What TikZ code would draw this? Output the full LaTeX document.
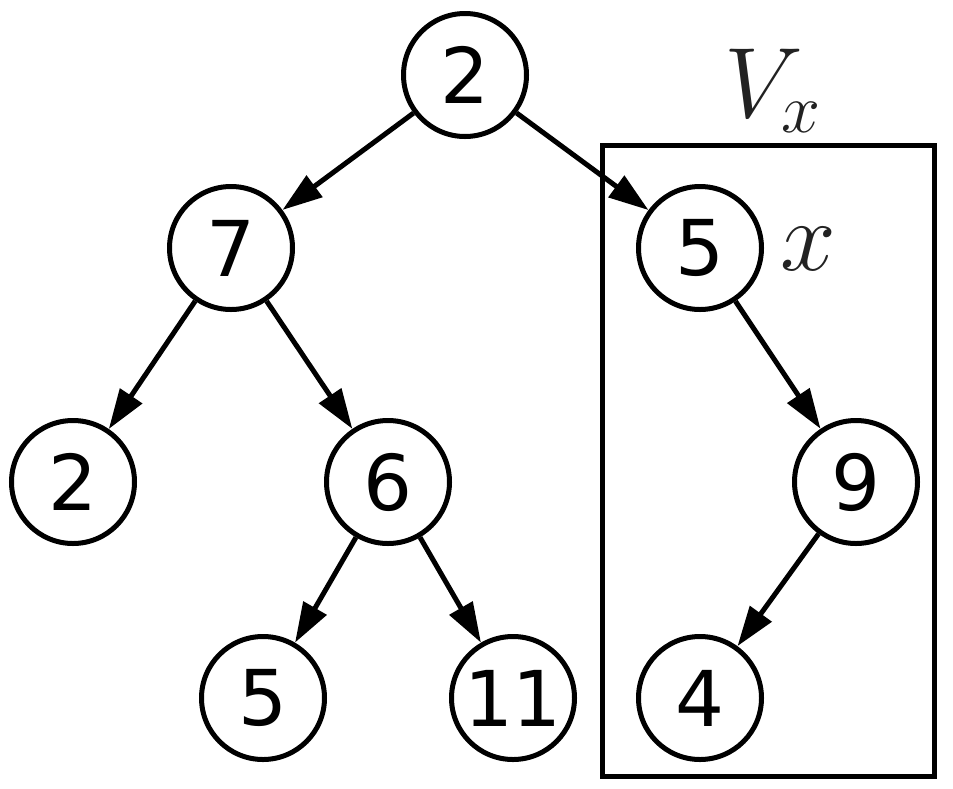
\RequirePackage{fix-cm}
\documentclass[tikz,border=0pt]{standalone}
\usepackage{fontspec}
\setmainfont{DejaVu Sans}
\usetikzlibrary{arrows.meta}
\definecolor{labgray}{HTML}{222222}
\tikzset{
  vert/.style={circle,draw,line width=5pt,minimum size=123pt,inner sep=0pt,
    font=\fontsize{77}{77}\selectfont},
  edge/.style={line width=5pt,-{Triangle[length=40pt,width=26pt]}},
  lab/.style={text=labgray,inner sep=0pt,font=\fontsize{100}{100}\selectfont},
  frame/.style={draw,line width=5pt}
}
\begin{document}
\begin{tikzpicture}[x=1pt,y=-1pt]
\useasboundingbox (0,0) rectangle (953,788);
\node[vert] (r) at (465,75) {2};
\node[vert] (a) at (231,248) {7};
\node[vert] (b) at (700,248) {5};
\node[vert] (c) at (73,482) {2};
\node[vert] (d) at (388,482) {6};
\node[vert] (e) at (856,482) {9};
\node[vert] (f) at (263,698) {5};
\node[vert] (g) at (513,698) {11};
\node[vert] (h) at (700,698) {4};
\draw[edge] (r) -- (a);
\draw[edge] (r) -- (b);
\draw[edge] (a) -- (c);
\draw[edge] (a) -- (d);
\draw[edge] (d) -- (f);
\draw[edge] (d) -- (g);
\draw[edge] (b) -- (e);
\draw[edge] (e) -- (h);
\coordinate (fa) at (602,145);
\coordinate (fb) at (934,776);
\draw[frame] (fa) rectangle (fb);
\node[lab,anchor=base west] (vx) at (724,117) {$V_x$};
\node[lab,anchor=base west] (xl) at (780,270) {$x$};
\end{tikzpicture}
\end{document}
